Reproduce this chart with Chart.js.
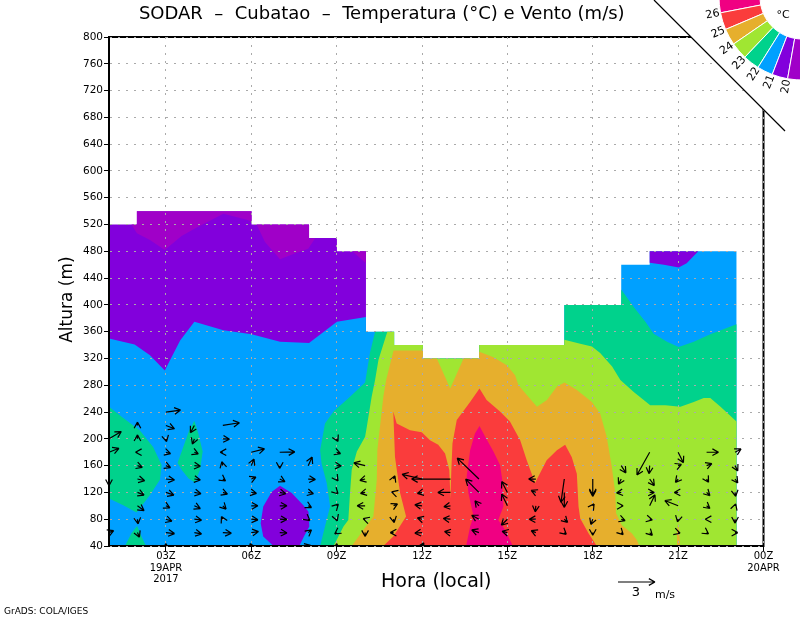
<!DOCTYPE html>
<html>
<head>
<meta charset="utf-8">
<title>SODAR Cubatao</title>
<script src="https://cdn.jsdelivr.net/npm/chart.js@4"></script>
<style>
  html, body { margin: 0; padding: 0; background: #fff; }
  canvas { display: block; }
</style>
</head>
<body>
<canvas id="sodar" width="800" height="618"></canvas>
<script>
// ticks
const hourTicks = [3, 6, 9, 12, 15, 18, 21, 24];
const hourLabels = [['03Z', '19APR', '2017'], '06Z', '09Z', '12Z', '15Z', '18Z', '21Z', ['00Z', '20APR']];

// colour key, warm to cold
const keyLevels = ['26', '25', '24', '23', '22', '21', '20'];
const keyColors = ['#f00082', '#fa3c3c', '#e6af2d', '#a0e632', '#00d28c', '#00a0ff', '#8200dc', '#a000c8'];

// temperature bands as [hour, metres]
const purpleArea = [[1,40],[1,520],[1.98,520],[1.98,540],[6.01,540],[6.01,520],[8.03,520],[8.03,500],[9.01,500],[9.01,480],[10.03,480],[10.03,40]];
const magentaTopA = [[1.79,520],[1.98,520],[1.98,540],[6.01,540],[6.01,524],[5.84,527],[5.02,536],[4.02,514],[3.55,503],[2.96,482],[2.44,497],[1.98,507]];
const magentaTopB = [[6.19,520],[6.48,494],[7.01,468],[7.48,476],[8,484],[8.24,499],[8.03,499],[8.03,520]];
const magentaTopC = [[9.55,480],[10.03,462],[10.03,480]];
const blueArea = [[1,40],[1,350],[1.9,341],[2.44,325],[2.96,302],[3.5,347],[4,375],[5.02,362],[6.01,356],[7.01,345],[8.03,343],[9.01,375],[10.03,382],[10.03,360],[11.02,360],[11.02,340],[12.03,340],[12.03,320],[14.01,320],[14.01,340],[17,340],[17,400],[19,400],[19,460],[20,460],[20,480],[23.05,480],[23.05,40]];
const purpleTopRight = [[20,480],[20,463],[20.5,460],[21.02,456],[21.3,462],[21.71,480]];
const purpleBlob = [[7.01,130],[7.42,119],[7.83,101],[8.01,91],[8.04,69],[7.85,54],[7.69,40],[6.78,40],[6.42,54],[6.33,74],[6.42,99],[6.72,121]];
const greenLeft = [[1,248],[1.5,231],[2.08,213],[2.55,188],[2.85,161],[2.79,139],[2.44,116],[1.97,90],[1.5,101],[1,111]];
const greenLow = [[1.56,40],[1.79,59],[1.99,70],[2.14,54],[2.3,40]];
const greenMid = [[4,227],[4.14,208],[4.29,181],[4.2,154],[4.02,135],[3.79,141],[3.55,154],[3.41,164],[3.61,188],[3.82,213]];
const greenArea = [[8.42,40],[8.59,69],[8.77,99],[8.65,134],[8.47,163],[8.42,183],[8.59,223],[8.89,241],[9.47,263],[10,284],[10.17,328],[10.35,360],[11.02,360],[11.02,340],[12.03,340],[12.03,320],[14.01,320],[14.01,340],[17,340],[17,400],[19,400],[19,423],[19.44,397],[19.85,375],[20.14,357],[20.61,345],[21.02,337],[21.55,345],[22.13,356],[23.05,371],[23.05,40]];
const limeArea = [[8.89,40],[9.24,69],[9.41,79],[9.47,119],[9.53,154],[9.71,181],[10,203],[10.06,218],[10.23,263],[10.35,288],[10.47,318],[10.78,360],[11.02,360],[11.02,340],[12.03,340],[12.03,320],[14.01,320],[14.01,340],[17,340],[17,348],[17.56,342],[17.97,338],[18.26,328],[18.68,308],[18.97,288],[19.44,270],[20.02,250],[20.55,250],[21.08,248],[21.55,255],[21.9,261],[22.13,261],[22.49,248],[23.05,226],[23.05,40]];
const orangeArea = [[9.53,40],[9.94,64],[10.29,84],[10.41,139],[10.43,183],[10.64,263],[10.74,288],[11,332],[12.03,332],[12.03,320],[12.52,320],[12.99,275],[13.46,320],[14.01,320],[14.01,330],[14.51,322],[14.98,310],[15.27,295],[15.39,280],[15.69,265],[16.04,248],[16.39,258],[16.74,278],[17.01,284],[17.44,273],[17.97,255],[18.26,238],[18.49,203],[18.67,158],[18.79,119],[18.82,89],[19.02,71],[19.37,59],[19.55,49],[19.64,40]];
const orangeSliver = [[20.93,40],[20.96,60],[21,75],[21.04,60],[21.07,40]];
const redArea = [[10.64,40],[10.99,54],[11.44,84],[11.23,119],[11.05,173],[10.99,241],[11.11,223],[11.58,213],[11.99,210],[12.28,198],[12.57,191],[12.81,178],[12.96,153],[13,111],[13.03,153],[13.07,193],[13.22,228],[13.69,255],[14.02,275],[14.27,258],[14.74,241],[15.09,226],[15.45,198],[15.68,168],[15.97,134],[16.38,168],[16.74,183],[17.03,191],[17.26,173],[17.44,148],[17.5,99],[17.56,81],[17.85,59],[18.14,40]];
const pinkArea = [[13.55,40],[13.69,69],[13.81,84],[13.63,119],[13.57,144],[13.69,183],[13.86,208],[14.02,219],[14.22,203],[14.51,181],[14.74,161],[14.82,139],[14.86,99],[14.68,79],[14.92,64],[15.19,40]];

// wind at each gate as [hour, metres, u, v], m/s
const windVectors = [
  [1,200,1,.59],[1,180,.81,.32],[1,140,0,-.54],[1,60,.38,.16],
  [2,220,0,.27],[2,200,0,.32],[2,180,-.16,0],[2,160,.4,-.14],[2,140,.59,-.14],[2,120,.54,-.22],[2,100,.54,-.4],[2,80,.05,-.38],[2,60,.16,-.38],
  [3,240,1.19,.16],[3,220,.7,-.27],[3,200,.05,-.22],[3,180,.38,-.11],[3,160,.38,-.16],[3,140,.7,-.08],[3,120,.65,-.22],[3,100,.32,-.16],[3,80,.49,-.16],[3,60,.7,-.08],[3,40,0,.2],
  [4,220,-.32,-.59],[4,200,-.16,-.43],[4,180,.32,-.14],[4,160,.49,-.05],[4,140,.49,-.08],[4,120,.54,-.11],[4,100,.49,-.22],[4,80,.59,-.08],[4,60,.59,-.11],
  [5,220,1.35,.22],[5,200,.54,-.03],[5,180,-.22,0],[5,160,-.08,.32],[5,140,.22,-.16],[5,120,.38,-.14],[5,100,.27,-.27],[5,80,-.11,.22],[5,60,.7,-.05],
  [6,180,1.08,.27],[6,160,.22,.54],[6,140,.38,.16],[6,120,.43,-.08],[6,100,.54,0],[6,80,.54,-.05],[6,60,.59,.08],[6,40,-.1,.2],
  [7,180,1.22,.03],[7,160,0,-.22],[7,140,.43,-.22],[7,120,.49,-.11],[7,100,.59,0],[7,80,.59,-.03],[7,60,.59,-.03],
  [8,160,.32,.7],[8,140,.59,-.03],[8,120,.43,-.11],[8,100,.27,-.14],[8,80,.14,-.11],[8,60,.27,.22],[8,40,.2,.05],
  [9,200,.11,-.22],[9,180,.32,-.11],[9,160,.38,-.03],[9,140,.11,-.16],[9,120,.11,-.11],[9,100,.14,.14],[9,80,.05,-.14],[9,60,-.16,-.11],[9,40,0,.2],
  [10,160,-.92,.22],[10,140,-.43,-.11],[10,120,-.38,-.08],[10,100,-.65,0],[10,80,-.16,.05],[10,60,0,-.32],
  [11,140,.11,.27],[11,120,-.16,.05],[11,100,.32,.16],[11,80,.05,-.27],[11,60,-.27,0],
  [12,140,-1.62,.38],[12,120,-.38,-.08],[12,100,-.59,.08],[12,80,-.38,.11],[12,60,-.59,-.05],[12,40,.14,.27],
  [13,140,-3.16,0],[13,120,-1.03,0],[13,100,-.54,-.08],[13,80,-.59,.05],[13,60,-.49,.08],
  [14,140,-1.76,1.7],[14,120,-1.08,1.08],[14,100,-.32,.41],[14,80,-.59,.32],[14,60,-.59,.22],
  [15,120,-.46,.89],[15,100,-.46,.95],[15,80,-.49,-.49],[15,60,-.43,.11],
  [16,140,-.59,0],[16,120,-.38,.16],[16,100,-.05,-.49],[16,80,-.54,0],[16,60,-.38,.16],
  [17,140,-.27,-1.89],[17,120,0,-1.22],[17,80,.27,-.27],[17,60,.16,-.14],
  [18,140,0,-1.3],[18,120,0,-.32],[18,100,.11,.16],[18,80,-.16,-.43],[18,60,0,-.22],
  [19,160,.38,-.59],[19,140,-.22,-.43],[19,120,-.38,-.05],[19,100,.16,0],[19,80,.32,-.11],[19,60,.16,-.16],
  [20,180,-1.03,-1.84],[20,160,-.05,-.65],[20,140,.38,-.54],[20,120,.38,0],[20,100,.43,.89],[20,80,.22,-.05],[20,60,.22,-.22],
  [21,180,.43,-.86],[21,160,.27,.11],[21,140,-.22,-.27],[21,120,-.32,0],[21,100,-1.08,.43],[21,80,-.05,-.22],[21,60,.16,-.05],
  [22,180,.97,0],[22,160,.43,.16],[22,140,.16,-.27],[22,120,.27,-.27],[22,100,.27,-.22],[22,80,-.11,0],[22,60,.16,-.11],
  [23,180,.49,.27],[23,160,.22,-.43],[23,140,.22,-.32],[23,120,.05,-.32],[23,100,.05,.16],[23,80,0,-.32],[23,60,.22,0]
];
const refSpeed = 3;
const pxPerMs = 12.33;

// painter's order, cold first
const bands = [
  [purpleArea, '#8200dc'], [magentaTopA, '#a000c8'], [magentaTopB, '#a000c8'], [magentaTopC, '#a000c8'],
  [blueArea, '#00a0ff'], [purpleTopRight, '#8200dc'], [purpleBlob, '#8200dc'],
  [greenLeft, '#00d28c'], [greenLow, '#00d28c'], [greenMid, '#00d28c'], [greenArea, '#00d28c'],
  [limeArea, '#a0e632'], [orangeArea, '#e6af2d'], [orangeSliver, '#e6af2d'], [redArea, '#fa3c3c'], [pinkArea, '#f00082']
];

const bandSets = bands.map(([poly, color], i) => ({
  data: poly.concat([poly[0]]).map(p => ({ x: p[0], y: p[1] })),
  showLine: true,
  fill: 'shape',
  backgroundColor: color,
  borderWidth: 0,
  pointRadius: 0,
  tension: 0,
  order: bands.length - i + 1
}));

const windSet = {
  label: 'wind',
  data: windVectors.map(w => ({ x: w[0], y: w[1] })),
  pointRadius: 0,
  showLine: false,
  order: 0
};

function drawArrow(ctx, x0, y0, x1, y1) {
  const ang = Math.atan2(y1 - y0, x1 - x0);
  ctx.beginPath();
  ctx.moveTo(x0, y0);
  ctx.lineTo(x1, y1);
  for (const s of [-1, 1]) {
    ctx.moveTo(x1, y1);
    ctx.lineTo(x1 - 7 * Math.cos(ang + s * 0.5), y1 - 7 * Math.sin(ang + s * 0.5));
  }
  ctx.stroke();
}

const frame = {
  id: 'frame',
  afterDatasetsDraw(chart) {
    const { ctx, chartArea: a } = chart;
    ctx.save();
    ctx.strokeStyle = '#000';
    ctx.lineWidth = 2;
    ctx.strokeRect(a.left, a.top, a.right - a.left, a.bottom - a.top);
    ctx.restore();
  },
  afterDraw(chart) {
    const { ctx, chartArea: a } = chart;
    ctx.save();

    // wind arrows, kept inside the frame
    const meta = chart.getDatasetMeta(chart.data.datasets.indexOf(windSet));
    ctx.save();
    ctx.beginPath();
    ctx.rect(0, a.top, 800, a.bottom - a.top);
    ctx.clip();
    ctx.strokeStyle = '#000';
    ctx.lineWidth = 1.2;
    meta.data.forEach((pt, i) => {
      const w = windVectors[i];
      drawArrow(ctx, pt.x, pt.y, pt.x + w[2] * pxPerMs, pt.y - w[3] * pxPerMs);
    });
    ctx.restore();

    // cut corner with the colour key
    ctx.fillStyle = '#fff';
    ctx.beginPath();
    ctx.moveTo(654, 0);
    ctx.lineTo(800, 0);
    ctx.lineTo(800, 146);
    ctx.closePath();
    ctx.fill();
    ctx.strokeStyle = '#000';
    ctx.lineWidth = 1.2;
    ctx.beginPath();
    ctx.moveTo(654, 0);
    ctx.lineTo(785, 131);
    ctx.stroke();

    const cx = 802, cy = -3, r0 = 42, r1 = 83;
    const edges = [181, 169, 157, 145.5, 133.5, 122, 111, 100, 88];
    keyColors.forEach((c, i) => {
      ctx.beginPath();
      ctx.arc(cx, cy, r1, edges[i] * Math.PI / 180, edges[i + 1] * Math.PI / 180, true);
      ctx.arc(cx, cy, r0, edges[i + 1] * Math.PI / 180, edges[i] * Math.PI / 180, false);
      ctx.closePath();
      ctx.fillStyle = c;
      ctx.fill();
      ctx.strokeStyle = '#fff';
      ctx.lineWidth = 1;
      ctx.stroke();
    });
    ctx.fillStyle = '#000';
    ctx.font = '11px "DejaVu Sans"';
    ctx.textAlign = 'center';
    ctx.textBaseline = 'middle';
    keyLevels.forEach((t, i) => {
      const deg = edges[i + 1];
      const rad = deg * Math.PI / 180;
      ctx.save();
      ctx.translate(cx + 91 * Math.cos(rad), cy + 91 * Math.sin(rad));
      ctx.rotate((deg - 180) * Math.PI / 180);
      ctx.fillText(t, 0, 0);
      ctx.restore();
    });
    ctx.fillText('°C', 783, 15);

    // reference arrow
    ctx.strokeStyle = '#000';
    ctx.lineWidth = 1.2;
    drawArrow(ctx, 618, 582, 618 + refSpeed * pxPerMs, 582);
    ctx.font = '13px "DejaVu Sans"';
    ctx.fillText(String(refSpeed), 636, 593);
    ctx.font = '11px "DejaVu Sans"';
    ctx.fillText('m/s', 665, 595);
    ctx.textAlign = 'left';
    ctx.font = '9px "DejaVu Sans"';
    ctx.fillText('GrADS: COLA/IGES', 4, 612);
    ctx.restore();
  }
};

new Chart(document.getElementById('sodar').getContext('2d'), {
  type: 'scatter',
  data: { datasets: bandSets.concat([windSet]) },
  plugins: [frame],
  options: {
    responsive: false,
    animation: false,
    events: [],
    layout: { padding: { top: 0, left: 0, right: 36.5, bottom: 0 } },
    plugins: {
      legend: { display: false },
      tooltip: { enabled: false },
      title: {
        display: true,
        text: 'SODAR  –  Cubatao  –  Temperatura (°C) e Vento (m/s)',
        color: '#000',
        font: { family: '"DejaVu Sans"', size: 18, weight: 'normal', lineHeight: 1.2 },
        padding: { top: 4, bottom: 11.4 }
      }
    },
    scales: {
      x: {
        type: 'linear',
        min: 1,
        max: 24,
        afterBuildTicks: s => { s.ticks = hourTicks.map(v => ({ value: v })); },
        afterFit: s => { s.height = 72; },
        ticks: {
          autoSkip: false,
          maxRotation: 0,
          padding: 0,
          color: '#000',
          font: { family: '"DejaVu Sans"', size: 10, lineHeight: 1.15 },
          callback: v => hourLabels[hourTicks.indexOf(v)]
        },
        grid: { color: '#aaa', z: 1, tickColor: '#000', tickLength: 5, tickBorderDash: [] },
        border: { color: '#000', width: 2, dash: [2, 6], z: 1 },
        title: {
          display: true,
          text: 'Hora (local)',
          color: '#000',
          font: { family: '"DejaVu Sans"', size: 19, lineHeight: 1.2 },
          padding: { top: 0, bottom: 25 }
        }
      },
      y: {
        type: 'linear',
        min: 40,
        max: 800,
        afterFit: s => { s.width = 109; },
        ticks: {
          stepSize: 40,
          padding: 1,
          color: '#000',
          font: { family: '"DejaVu Sans"', size: 10.5 }
        },
        grid: { color: '#aaa', z: 1, tickColor: '#000', tickLength: 5, tickBorderDash: [] },
        border: { color: '#000', width: 2, dash: [2, 6], z: 1 },
        title: {
          display: true,
          text: 'Altura (m)   ',
          color: '#000',
          font: { family: '"DejaVu Sans"', size: 17, lineHeight: 1.2 },
          padding: { top: 57, bottom: 0 }
        }
      }
    }
  }
});
</script>
</body>
</html>
